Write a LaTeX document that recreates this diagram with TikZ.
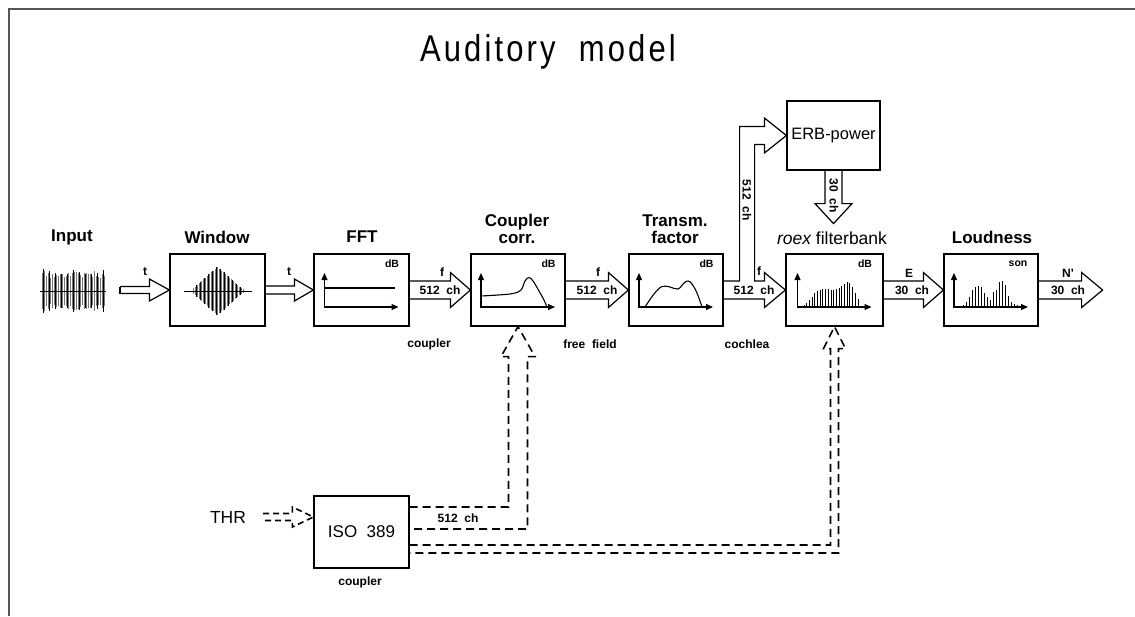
\documentclass[tikz,border=0pt]{standalone}
\usepackage{fontspec}
\setmainfont{Liberation Sans}
\usetikzlibrary{calc,arrows.meta}
\definecolor{framegray}{RGB}{85,85,85}
\definecolor{wavegray}{RGB}{120,120,120}

% hollow block arrow: [style] tail, tip, half shaft, half head, head length
\newcommand\blockarrow[6][]{%
  \draw[hollow,#1] ($(#2)+(0,-#4)$) -- ($(#3)+(-#6,-#4)$) -- ($(#3)+(-#6,-#5)$) -- (#3)
    -- ($(#3)+(-#6,#5)$) -- ($(#3)+(-#6,#4)$) -- ($(#2)+(0,#4)$);}

\begin{document}
\begin{tikzpicture}[x=1pt,y=-1pt,line join=miter,
  box/.style={draw,line width=1.2pt,minimum width=95pt,minimum height=72pt,inner sep=0pt},
  hollow/.style={draw,line width=1.2pt},
  lab/.style={font=\bfseries\fontsize{17}{17}\selectfont,inner sep=0pt,align=center},
  smalllab/.style={font=\bfseries\fontsize{12}{13}\selectfont,inner sep=0pt},
  tinylab/.style={font=\bfseries\fontsize{10.5}{12}\selectfont,inner sep=0pt},
  axis/.style={line width=1.1pt,{Triangle[length=7pt,width=6pt]}-{Triangle[length=7pt,width=6pt]}},
  dashline/.style={line width=1.6pt,dash pattern=on 8pt off 5pt},
  bar/.style={line width=1pt}]
\path[use as bounding box] (0,0) rectangle (1135,616);
\draw[framegray,line width=2pt] (9,616) -- (9,9) -- (1135,9);
\node[font=\fontsize{31}{36}\selectfont\addfontfeature{LetterSpace=10},inner sep=0pt] (title) at (548,52)
  {\scalebox{1}[1.2]{Auditory\ \ model}};

% boxes
\node[box] (win) at (217.5,290) {};
\node[box] (fft) at (361.5,290) {};
\node[box,minimum width=94pt] (cpl) at (518,290) {};
\node[box,minimum width=94pt] (trm) at (676,290) {};
\node[box,minimum width=97pt] (roex) at (834.5,290) {};
\node[box,minimum width=94pt] (loud) at (991,290) {};
\node[box,minimum width=93pt,minimum height=69pt,font=\fontsize{16.5}{18}\selectfont] (erb) at (833.5,135.5) {ERB-power};
\node[box,font=\fontsize{17}{18}\selectfont] (iso) at (361.5,532) {ISO\ \ 389};
\node[font=\fontsize{17.5}{18}\selectfont,inner sep=0pt] (thr) at (228,517) {THR};

% titles over the boxes
\node[lab] (inlab) at (72,237) {Input};
\node[lab] (winlab) at (217,237) {Window};
\node[lab] (fftlab) at (362,237) {FFT};
\node[lab] (cpllab) at (517,229) {Coupler\\corr.};
\node[lab] (trmlab) at (675,229) {Transm.\\factor};
\node[lab,font=\fontsize{17.5}{18}\selectfont] (roexlab) at (832,238) {\itshape roex\upshape{} filterbank};
\node[lab] (loudlab) at (992,237) {Loudness};

% small labels
\node[smalllab] (cplnote) at (429,344) {coupler};
\node[smalllab] (ffnote) at (590,344) {free\ \ field};
\node[smalllab] (cochnote) at (747,344) {cochlea};
\node[smalllab] (isonote) at (360,582) {coupler};

% graphs inside the boxes
\foreach \b in {fft,cpl,trm,roex,loud}{
  \begin{scope}[shift={(\b.center)}]
    \draw[axis] (-37,-17) -- (-37,17) -- (37,17);
  \end{scope}
}
\foreach \b in {fft,cpl,trm,roex}
  \node[tinylab] at ($(\b.center)+(30.5,-26)$) {dB};
\node[tinylab] at ($(loud.center)+(27,-26)$) {son};
\draw[line width=1.1pt] ($(fft.center)+(-37,-2)$) -- ($(fft.center)+(33,-2)$);
\begin{scope}[shift={(cpl.center)}]
  \draw[line width=1.1pt] plot[smooth,tension=0.6] coordinates
    {(-37,6) (-20,5) (-5,3.5) (3,0) (7,-9) (11,-12.5) (15,-9) (21,1) (26,10) (29,17)};
\end{scope}
\begin{scope}[shift={(trm.center)}]
  \draw[line width=1.1pt] plot[smooth,tension=0.6] coordinates
    {(-31,17) (-22,4) (-14,-3.5) (-6,-3) (2,-1) (8,-7) (12,-9) (16,-6) (21,3) (26,17)};
\end{scope}
\foreach \h [count=\k] in {2,4,7,10,14,16,17,18,18,18,17,17,18,19,21,23,25,24,20,14,8}
  \draw[bar] ($(roex.center)+(-33.2+2.7*\k,17)$) -- ++(0,-\h);
\foreach \h [count=\k] in {2,5,10,17,20,21,20,14,10,7,15,17,25,26,22,11,5,3,2}
  \draw[bar] ($(loud.center)+(-31+3*\k,17)$) -- ++(0,-\h);

% input signal
\coordinate (inwave) at (73,291);
\pgfmathsetseed{11}
\foreach \i in {0,...,31}{
  \pgfmathsetmacro\h{13+7*rnd}
  \draw[wavegray,line width=0.9pt] ($(inwave)+(-31+2*\i,-\h)$) -- ++(0,2*\h);
}
\foreach \i in {0,...,10}{
  \pgfmathsetmacro\h{16+8*rnd}
  \draw[line width=0.8pt] ($(inwave)+(-30+6*\i,-\h)$) -- ++(0,2*\h);
}
\draw[line width=0.8pt] ($(inwave)+(-33,0)$) -- ($(inwave)+(33,0)$);

% windowed signal
\coordinate (winwave) at ($(win.center)+(0,1)$);
\foreach \i in {-24,-22,...,26}{
  \pgfmathsetmacro\h{max(2,24*(1-abs(\i)/27))}
  \draw[wavegray,line width=1.1pt] ($(winwave)+(\i,-\h)$) -- ++(0,2*\h);
}
\foreach \i in {-21,-17,...,23}{
  \pgfmathsetmacro\h{max(2,25*(1-abs(\i)/27))}
  \draw[line width=0.7pt] ($(winwave)+(\i,-\h)$) -- ++(0,2*\h);
}
\draw[line width=0.8pt] ($(winwave)+(-34,0)$) -- ($(winwave)+(34,0)$);

% main signal path
\coordinate (intail) at (120,290);
\blockarrow{intail}{win.west}{3.5}{11}{20}
\draw[hollow] ($(intail)+(0,-3.5)$) -- ($(intail)+(0,3.5)$);
\blockarrow{win.east}{fft.west}{4}{11}{19}
\blockarrow{fft.east}{cpl.west}{9}{17.5}{20}
\blockarrow{cpl.east}{trm.west}{9}{17.5}{20}
\coordinate (bo) at ($(trm.east)+(16,0)$);
\coordinate (bi) at ($(trm.east)+(31,0)$);
\coordinate (eb) at ($(erb.west)+(-22,0)$);
\draw[hollow] ($(trm.east)+(0,9)$) -- ($(roex.west)+(-21,9)$) -- ($(roex.west)+(-21,17.5)$)
  -- (roex.west) -- ($(roex.west)+(-21,-17.5)$) -- ($(roex.west)+(-21,-9)$)
  -- ($(bi)+(0,-9)$) -- ($(bi|-eb)+(0,9)$) -- ($(eb)+(0,9)$) -- ($(eb)+(0,17.5)$)
  -- (erb.west) -- ($(eb)+(0,-17.5)$) -- ($(eb)+(0,-9)$) -- ($(bo|-eb)+(0,-9)$)
  -- ($(bo)+(0,-9)$) -- ($(trm.east)+(0,-9)$);
\coordinate (erbtip) at ($(erb.south)+(0,53)$);
\draw[hollow] ($(erb.south)+(-8.5,0)$) -- ($(erbtip)+(-8.5,-20)$) -- ($(erbtip)+(-18.5,-20)$)
  -- (erbtip) -- ($(erbtip)+(18.5,-20)$) -- ($(erbtip)+(8.5,-20)$) -- ($(erb.south)+(8.5,0)$);
\blockarrow{roex.east}{loud.west}{9}{17.5}{20}
\coordinate (outtip) at ($(loud.east)+(64,0)$);
\blockarrow{loud.east}{outtip}{9}{17.5}{21}

% arrow labels
\node[smalllab] at (145,272) {t};
\node[smalllab] at (289,272) {t};
\node[smalllab] at (442,272) {f};
\node[smalllab] at (440,290) {512\ \ ch};
\node[smalllab] at (598,272) {f};
\node[smalllab] at (597,290) {512\ \ ch};
\node[smalllab] at (759,271) {f};
\node[smalllab] at (754,290) {512\ \ ch};
\node[smalllab,rotate=-90] at (747,200) {512\ \ ch};
\node[smalllab,rotate=-90] at (834,196) {30\ \ ch};
\node[smalllab] at (909,273) {E};
\node[smalllab] at (912,290) {30\ \ ch};
\node[smalllab] at (1068,273) {N'};
\node[smalllab] at (1068,290) {30\ \ ch};

% threshold path
\coordinate (ua) at ($(iso.east)+(0,-25)$);
\coordinate (ub) at ($(iso.east)+(0,-3)$);
\draw[dashline] (ua) -- ($(cpl.south|-ua)+(-9.5,0)$) -- ($(cpl.south)+(-9.5,30)$)
  -- ($(cpl.south)+(-17,30)$) -- (cpl.south) -- ($(cpl.south)+(17,30)$)
  -- ($(cpl.south)+(9.5,30)$) -- ($(cpl.south|-ub)+(9.5,0)$) -- (ub);
\node[smalllab] at (458,518) {512\ \ ch};
\coordinate (la) at ($(iso.east)+(0,13)$);
\coordinate (lb) at ($(iso.east)+(0,21)$);
\draw[dashline] (la) -- ($(roex.south|-la)+(-4,0)$) -- ($(roex.south)+(-4,22)$)
  -- ($(roex.south)+(-11,22)$) -- (roex.south) -- ($(roex.south)+(11,22)$)
  -- ($(roex.south)+(4,22)$) -- ($(roex.south|-lb)+(4,0)$) -- (lb);
\coordinate (thrtail) at ($(thr.east)+(17,0)$);
\coordinate (isoin) at (iso.west|-thr);
\blockarrow[dashline,dash pattern=on 6pt off 4pt]{thrtail}{isoin}{3.5}{10}{21}
\end{tikzpicture}
\end{document}
